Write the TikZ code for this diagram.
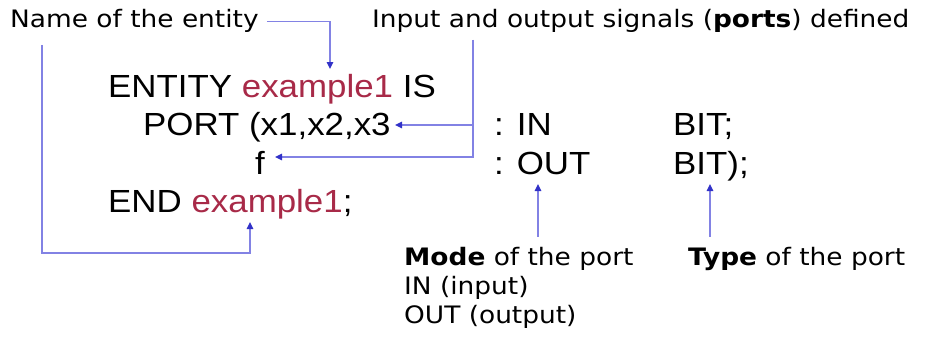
\documentclass[tikz,border=0pt]{standalone}
\usepackage{fontspec}
\usetikzlibrary{arrows.meta}
\newfontfamily\lblfont[FakeStretch=1.1]{DejaVu Sans}
\newfontfamily\codefont[FakeStretch=1.09]{Liberation Sans}
\definecolor{linec}{RGB}{130,130,228}
\definecolor{tipc}{RGB}{50,50,200}
\definecolor{namec}{RGB}{168,42,72}
\tikzset{
  lbl/.style={anchor=base west, inner sep=0pt, font=\lblfont\fontsize{24}{28}\selectfont},
  code/.style={anchor=base west, inner sep=0pt, font=\codefont\fontsize{32}{38}\selectfont},
  conn/.style={draw=linec, line width=1.3pt},
  arr/.style={conn, -{Triangle[length=7pt,width=6.5pt,color=tipc]}},
}
\begin{document}
\begin{tikzpicture}[x=1pt,y=-1pt]
\useasboundingbox (0,0) rectangle (925,337);
% labels
\node[lbl] (lname) at (10,28) {Name of the entity};
\node[lbl] (lports) at (372,28) {Input and output signals (\textbf{ports}) defined};
\node[lbl] (lmode) at (404,265) {\textbf{Mode} of the port};
\node[lbl] (lin) at (404,294) {IN (input)};
\node[lbl] (lout) at (404,323) {OUT (output)};
\node[lbl] (ltype) at (688,265) {\textbf{Type} of the port};
% code
\node[code] (cent) at (108,97) {ENTITY \textcolor{namec}{example1} IS};
\node[code] (cport) at (143,135) {PORT (x1,x2,x3};
\node[code] (cf) at (255,174) {f};
\node[code] (cend) at (108,212) {END \textcolor{namec}{example1};};
\node[code] (cin) at (494,135) {: IN};
\node[code] (cbit1) at (673,135) {BIT;};
\node[code] (cout) at (494,174) {: OUT};
\node[code] (cbit2) at (673,174) {BIT);};
% connector coordinates
\coordinate (tent) at (330,69);
\coordinate (pj) at (473,40);
\coordinate (tx3) at (395,125);
\coordinate (tf) at (275,157);
\coordinate (lj) at (42,45);
\coordinate (tend) at (250,222);
\coordinate (tmode) at (538,184);
\coordinate (ttype) at (710,184);
% connectors
\draw[arr] ([xshift=8pt]lname.east) -| (tent);
\draw[arr] (pj) |- (tx3);
\draw[arr] (pj) |- (tf);
\draw[arr] (lj) |- ([yshift=-31pt]tend) -- (tend);
\draw[arr] (tmode |- lmode.north) ++(0,-10) -- (tmode);
\draw[arr] (ttype |- ltype.north) ++(0,-10) -- (ttype);
\end{tikzpicture}
\end{document}
